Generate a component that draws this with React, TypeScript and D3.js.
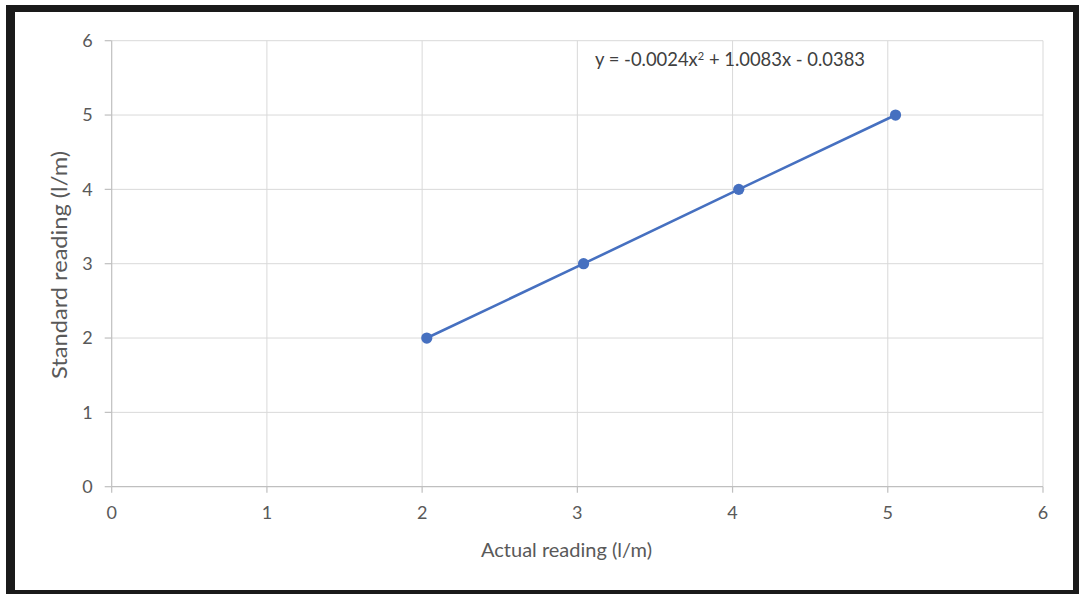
import React from "react";
import * as d3 from "d3";

const actualReading = [2.03, 3.04, 4.04, 5.05];
const standardReading = [2, 3, 4, 5];
const xTicks = [0, 1, 2, 3, 4, 5, 6];
const yTicks = [0, 1, 2, 3, 4, 5, 6];
const equationText = "y = -0.0024x";
const equationRest = " + 1.0083x - 0.0383";
const xTitle = "Actual reading (l/m)";
const yTitle = "Standard reading (l/m)";

const W = 1079;
const H = 594;
const left = 111.7;
const right = 1043;
const top = 40.7;
const bottom = 486.7;

export default function App() {
  const x = d3.scaleLinear().domain([0, 6]).range([left, right]);
  const y = d3.scaleLinear().domain([0, 6]).range([bottom, top]);
  const pts = actualReading.map((v, i) => [v, standardReading[i]] as [number, number]);
  const line = d3.line<[number, number]>().x(d => x(d[0])).y(d => y(d[1]));
  const font = "Lato, 'Open Sans', sans-serif";
  const textCol = "#595959";
  return (
    <svg width={W} height={H} style={{ position: "absolute", left: 0, top: 0 }} fontFamily={font}>
      <rect x={0} y={0} width={W} height={H} fill="#ffffff" />
      <rect x={6} y={5} width={W - 6} height={H - 5} fill="#1a1a1a" />
      <rect x={15} y={12} width={1058} height={578} fill="#ffffff" />
      {yTicks.slice(1).map(t => (
        <line key={"gy" + t} x1={left} x2={right} y1={y(t)} y2={y(t)} stroke="#d9d9d9" strokeWidth={1} />
      ))}
      {xTicks.slice(1).map(t => (
        <line key={"gx" + t} x1={x(t)} x2={x(t)} y1={top} y2={bottom} stroke="#d9d9d9" strokeWidth={1} />
      ))}
      <line x1={left} x2={left} y1={top} y2={bottom} stroke="#bfbfbf" strokeWidth={1.2} />
      <line x1={left} x2={right} y1={bottom} y2={bottom} stroke="#bfbfbf" strokeWidth={1.2} />
      {yTicks.map(t => (
        <line key={"ty" + t} x1={left - 7} x2={left} y1={y(t)} y2={y(t)} stroke="#bfbfbf" strokeWidth={1.2} />
      ))}
      {xTicks.map(t => (
        <line key={"tx" + t} x1={x(t)} x2={x(t)} y1={bottom} y2={bottom + 6} stroke="#bfbfbf" strokeWidth={1.2} />
      ))}
      {yTicks.map(t => (
        <text key={"ly" + t} x={left - 19} y={y(t)} dy="0.35em" textAnchor="end" fontSize={18} fill={textCol}>
          {t}
        </text>
      ))}
      {xTicks.map(t => (
        <text key={"lx" + t} x={x(t)} y={bottom + 26} dy="0.35em" textAnchor="middle" fontSize={18} fill={textCol}>
          {t}
        </text>
      ))}
      <text x={481} y={550} dy="0.35em" fontSize={19} fill={textCol} textLength={171} lengthAdjust="spacingAndGlyphs">
        {xTitle}
      </text>
      <text transform={`translate(60,379) rotate(-90)`} dy="0.35em" fontSize={20.5} fill={textCol} textLength={228} lengthAdjust="spacingAndGlyphs">
        {yTitle}
      </text>
      <path d={line(pts) || ""} fill="none" stroke="#4670c0" strokeWidth={2.6} />
      {pts.map((p, i) => (
        <circle key={i} cx={x(p[0])} cy={y(p[1])} r={5.6} fill="#4670c0" />
      ))}
      <text x={595} y={60} dy="0.35em" fontSize={18.4} fill="#404040">
        {equationText}
        <tspan dy="-6" fontSize={11}>2</tspan>
        <tspan dy="6">{equationRest}</tspan>
      </text>
    </svg>
  );
}
